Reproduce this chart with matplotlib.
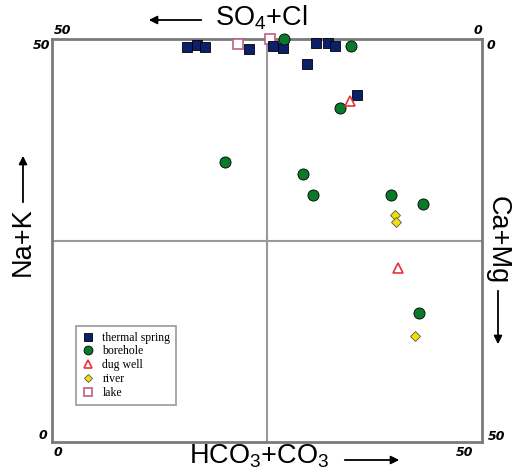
import matplotlib.pyplot as plt

plt.rcParams['mathtext.fontset'] = 'custom'
plt.rcParams['mathtext.rm'] = 'Liberation Sans'

# positions in percent of the square (x: left->right, y: bottom->top)
spring_x = [31.4, 33.7, 35.6, 45.8, 51.4, 53.7, 61.4, 64.2, 65.8, 59.3, 70.9]
spring_y = [98.0, 98.5, 98.0, 97.5, 98.3, 97.8, 99.0, 99.0, 98.3, 93.8, 86.1]
bore_x = [54.0, 69.5, 67.0, 40.2, 58.4, 60.7, 78.8, 86.3, 85.3]
bore_y = [100.0, 98.3, 82.9, 69.5, 66.5, 61.3, 61.3, 59.1, 32.0]
well_x = [69.3, 80.5]
well_y = [84.6, 43.2]
river_x = [79.8, 80.0, 84.4]
river_y = [56.3, 54.6, 26.3]
lake_x = [43.3, 50.7]
lake_y = [98.8, 100.0]

fig = plt.figure(figsize=(5.17, 4.75), dpi=100)
ax = fig.add_axes([52/517, 33/475, 430/517, 403/475])
ax.set_xlim(0, 100)
ax.set_ylim(0, 100)
ax.set_xticks([])
ax.set_yticks([])
for s in ax.spines.values():
    s.set_color('#7a7a7a')
    s.set_linewidth(2)
ax.axvline(50, color='#999999', lw=1.5, zorder=1)
ax.axhline(50, color='#999999', lw=1.5, zorder=1)

ax.plot(lake_x, lake_y, 's', ms=7, mfc='white', mec='#c06080', mew=1.2, ls='none', label='lake', clip_on=False, zorder=3)
ax.plot(spring_x, spring_y, 's', ms=7, mfc='#0c1f6b', mec='black', mew=0.6, ls='none', label='thermal spring', clip_on=False, zorder=4)
ax.plot(bore_x, bore_y, 'o', ms=8, mfc='#0a7a2a', mec='black', mew=0.6, ls='none', label='borehole', clip_on=False, zorder=4)
ax.plot(well_x, well_y, '^', ms=7, mfc='white', mec='#e8303a', mew=1.2, ls='none', label='dug well', clip_on=False, zorder=5)
ax.plot(river_x, river_y, 'D', ms=5, mfc='#f0e000', mec='#555555', mew=0.6, ls='none', label='river', clip_on=False, zorder=5)

h, l = ax.get_legend_handles_labels()
order = [1, 2, 3, 4, 0]
leg = ax.legend([h[i] for i in order], [l[i] for i in order], loc='lower left',
                bbox_to_anchor=(0.043, 0.078), prop={'family': 'Liberation Serif', 'size': 8.5},
                frameon=True, fancybox=False, edgecolor='#808080', handlelength=1,
                handletextpad=0.7, labelspacing=0.15, borderpad=0.5, markerscale=0.8)
leg.get_frame().set_linewidth(1.2)

# corner numbers
num = dict(fontsize=9, fontweight='bold', fontstyle='italic', ha='center', va='center')
ax.text(0.025, 1.022, '50', transform=ax.transAxes, **num)
ax.text(-0.025, 0.985, '50', transform=ax.transAxes, **num)
ax.text(0.99, 1.022, '0', transform=ax.transAxes, **num)
ax.text(1.02, 0.985, '0', transform=ax.transAxes, **num)
ax.text(-0.022, 0.015, '0', transform=ax.transAxes, **num)
ax.text(0.014, -0.025, '0', transform=ax.transAxes, **num)
ax.text(1.035, 0.013, '50', transform=ax.transAxes, **num)
ax.text(0.96, -0.025, '50', transform=ax.transAxes, **num)

lab = dict(fontsize=19.5, ha='center', va='center', family='Liberation Sans')
arr = dict(arrowstyle='-|>', color='black', lw=1.3, mutation_scale=12)
fig.text(261/517, 1 - 18/475, r'SO$_\mathrm{4}$+Cl', **lab)
ax.annotate('', xy=(146/517, 1 - 20/475), xytext=(204/517, 1 - 20/475),
            xycoords='figure fraction', arrowprops=arr, annotation_clip=False)
fig.text(259/517, 1 - 456/475, r'HCO$_\mathrm{3}$+CO$_\mathrm{3}$', **lab)
ax.annotate('', xy=(402/517, 1 - 460/475), xytext=(342/517, 1 - 460/475),
            xycoords='figure fraction', arrowprops=arr, annotation_clip=False)
fig.text(23/517, 1 - 242/475, 'Na+K', rotation=90, **lab)
ax.annotate('', xy=(23/517, 1 - 153/475), xytext=(23/517, 1 - 205/475),
            xycoords='figure fraction', arrowprops=arr, annotation_clip=False)
fig.text(498/517, 1 - 240/475, 'Ca+Mg', rotation=-90, **lab)
ax.annotate('', xy=(498/517, 1 - 347/475), xytext=(498/517, 1 - 288/475),
            xycoords='figure fraction', arrowprops=arr, annotation_clip=False)

fig.savefig('out.png', dpi=100)
